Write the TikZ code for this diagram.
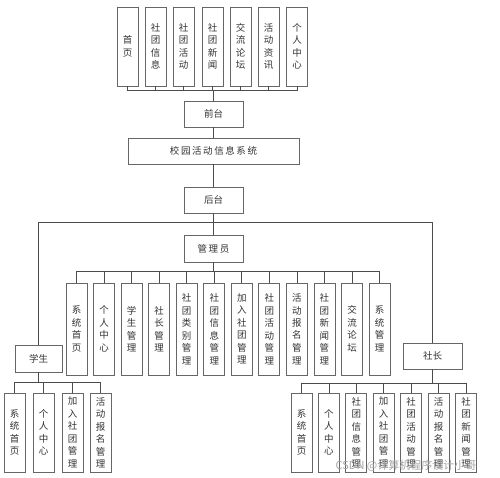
\documentclass[tikz,border=0pt]{standalone}
\usepackage{fontspec}
\newfontfamily\cjk{Noto Sans CJK SC}
\tikzset{
  hbox/.style={draw=black!60, line width=0.9pt, fill=white, inner sep=0pt, font=\cjk\fontsize{9.5}{12}\selectfont, text=black!80},
  vbox/.style={hbox, minimum width=21pt, align=center, font=\cjk\fontsize{9.5}{12.5}\selectfont},
  topv/.style={vbox, minimum height=79pt},
  admv/.style={vbox, minimum height=92pt},
  lowv/.style={vbox, minimum height=79pt},
  conn/.style={draw=black!70, line width=0.8pt},
}
\begin{document}
\begin{tikzpicture}[x=1pt,y=-1pt]
\useasboundingbox (0,0) rectangle (500,478);
% top row
\node[topv] (t1) at (127.5,46.5) {首\\页};
\node[topv] (t2) at (155.5,46.5) {社\\团\\信\\息};
\node[topv] (t3) at (183.5,46.5) {社\\团\\活\\动};
\node[topv] (t4) at (212.5,46.5) {社\\团\\新\\闻};
\node[topv] (t5) at (240.5,46.5) {交\\流\\论\\坛};
\node[topv] (t6) at (268.5,46.5) {活\\动\\资\\讯};
\node[topv] (t7) at (297,46.5) {个\\人\\中\\心};
\coordinate (busT) at (0,90);
% main column
\node[hbox, minimum width=59pt, minimum height=26pt] (qt) at (213.5,114) {前台};
\node[hbox, minimum width=171pt, minimum height=26pt] (sys) at (213.5,151) {校\,园\,活\,动\,信\,息\,系\,统};
\node[hbox, minimum width=59pt, minimum height=26pt] (ht) at (213.5,200) {后台};
\node[hbox, minimum width=59pt, minimum height=27pt] (adm) at (213.5,248.5) {管\,理\,员};
\node[hbox, minimum width=47pt, minimum height=27pt] (stu) at (38.5,358.5) {学生};
\node[hbox, minimum width=59pt, minimum height=26pt] (pres) at (432.5,356) {社长};
\coordinate (busM) at (0,222);
\coordinate (busA) at (0,271);
\coordinate (busS) at (0,382);
\coordinate (busP) at (0,383);
% admin children
\node[admv] (a1) at (76.5,329) {系\\统\\首\\页};
\node[admv] (a2) at (104.05,329) {个\\人\\中\\心};
\node[admv] (a3) at (131.6,329) {学\\生\\管\\理};
\node[admv] (a4) at (159.15,329) {社\\长\\管\\理};
\node[admv] (a5) at (186.7,329) {社\\团\\类\\别\\管\\理};
\node[admv] (a6) at (214.25,329) {社\\团\\信\\息\\管\\理};
\node[admv] (a7) at (241.8,329) {加\\入\\社\\团\\管\\理};
\node[admv] (a8) at (269.35,329) {社\\团\\活\\动\\管\\理};
\node[admv] (a9) at (296.9,329) {活\\动\\报\\名\\管\\理};
\node[admv] (a10) at (324.45,329) {社\\团\\新\\闻\\管\\理};
\node[admv] (a11) at (352,329) {交\\流\\论\\坛};
\node[admv] (a12) at (379.5,329) {系\\统\\管\\理};
% student children
\node[lowv] (s1) at (14.5,432.5) {系\\统\\首\\页};
\node[lowv] (s2) at (43.5,432.5) {个\\人\\中\\心};
\node[lowv] (s3) at (72.5,432.5) {加\\入\\社\\团\\管\\理};
\node[lowv] (s4) at (100.5,432.5) {活\\动\\报\\名\\管\\理};
% president children
\node[lowv] (p1) at (301.5,432.5) {系\\统\\首\\页};
\node[lowv] (p2) at (328.9,432.5) {个\\人\\中\\心};
\node[lowv] (p3) at (356.3,432.5) {社\\团\\信\\息\\管\\理};
\node[lowv] (p4) at (383.7,432.5) {加\\入\\社\\团\\管\\理};
\node[lowv] (p5) at (411.1,432.5) {社\\团\\活\\动\\管\\理};
\node[lowv] (p6) at (438.5,432.5) {活\\动\\报\\名\\管\\理};
\node[lowv] (p7) at (466,432.5) {社\\团\\新\\闻\\管\\理};
% connectors
\foreach \c in {t1,t2,t3,t4,t5,t6,t7}
  \draw[conn] (qt.north) -- (qt.north |- busT) -| (\c.south);
\draw[conn] (qt.south) -- (sys.north);
\draw[conn] (sys.south) -- (ht.north);
\draw[conn] (ht.south) -- (adm.north);
\draw[conn] (ht.south) -- (ht.south |- busM) -| (stu.north);
\draw[conn] (ht.south) -- (ht.south |- busM) -| (pres.north);
\foreach \c in {a1,a2,a3,a4,a5,a6,a7,a8,a9,a10,a11,a12}
  \draw[conn] (adm.south) -- (adm.south |- busA) -| (\c.north);
\foreach \c in {s1,s2,s3,s4}
  \draw[conn] (stu.south) -- (stu.south |- busS) -| (\c.north);
\foreach \c in {p1,p2,p3,p4,p5,p6,p7}
  \draw[conn] (pres.south) -- (pres.south |- busP) -| (\c.north);
% watermark
\node[font=\cjk\fontsize{11}{12}\selectfont, text=black!35, inner sep=0pt] (wm) at (406,466) {CSDN @计算机程序设计小哥};
\end{tikzpicture}
\end{document}
